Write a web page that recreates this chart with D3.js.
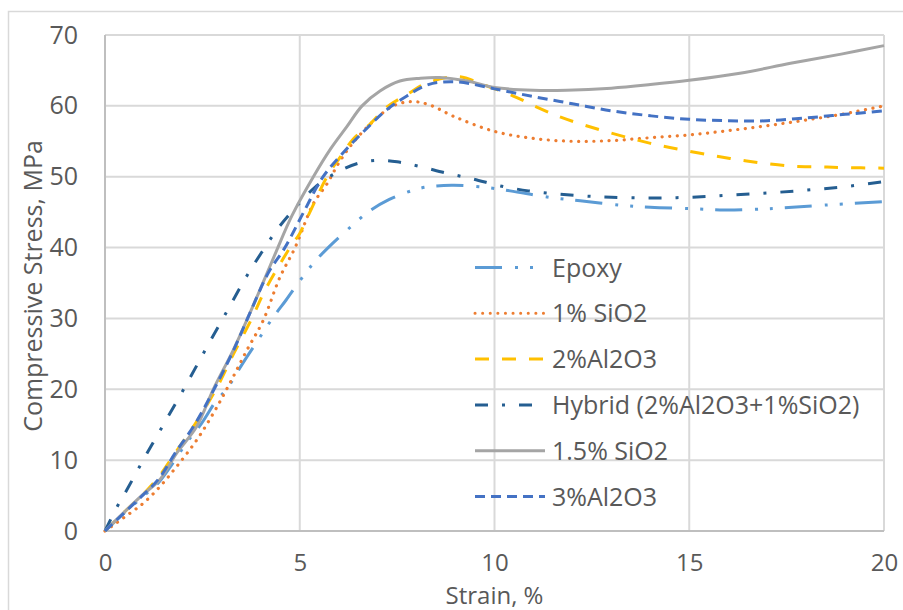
<!DOCTYPE html>
<html>
<head>
<meta charset="utf-8">
<script src="https://cdn.jsdelivr.net/npm/d3@7"></script>
<style>
  body { margin: 0; background: #fff; }
  text { font-family: "Open Sans", "Noto Sans", sans-serif; fill: #595959; }
</style>
</head>
<body>
<div id="chart"></div>
<script>
// strain (%) / stress (MPa) pairs
const epoxy = [[0,0],[0.5,2.6],[1,5],[1.4,7],[1.72,9.4],[2.1,12.5],[2.48,15.2],[2.87,18.5],[3.12,20],[3.54,23.7],[3.9,26.7],[4.31,30.1],[4.65,32.6],[5,35.3],[5.35,37.8],[5.73,40],[6.2,42.4],[6.8,45.2],[7.3,46.8],[7.75,47.8],[8.2,48.5],[8.9,48.8],[9.6,48.6],[10.4,48],[11.4,47.1],[12.2,46.6],[13.2,46],[14,45.7],[15,45.5],[15.9,45.3],[16.7,45.4],[17.4,45.6],[18.5,46],[20,46.5]];
const sio2_1 = [[0,0],[0.64,2.5],[1,4],[1.4,6.2],[1.84,9.1],[2.35,12.8],[2.78,16.6],[3.2,20.8],[3.64,25.5],[4.06,29.7],[4.49,35.8],[4.88,40],[5.35,46.2],[5.7,49],[6.03,52.2],[6.4,55],[6.9,57.9],[7.4,60],[7.85,60.6],[8.3,60.2],[9,58.4],[10,56.4],[11,55.4],[12,55],[13,55.1],[14,55.5],[15,55.9],[16,56.5],[17,57.2],[18,58],[19,58.9],[20,60]];
const al2o3_2 = [[0,0],[0.5,2.7],[1,5.3],[1.4,7.8],[1.8,11],[2.3,15],[2.85,20],[3.3,25],[3.77,30],[4.1,33.9],[4.75,40],[5,42],[5.26,45],[5.7,50],[6.03,52.7],[6.37,55.3],[6.8,57.4],[7.23,59.8],[7.75,61.6],[8.3,63.3],[9.1,64.1],[9.7,63],[10.4,61.6],[11.1,59.8],[11.7,58.4],[12.3,57.3],[12.97,56.2],[13.65,55.2],[14.25,54.4],[14.9,53.7],[15.6,53],[16.25,52.4],[16.9,51.9],[17.6,51.5],[18.3,51.4],[18.95,51.3],[20,51.2]];
const hybrid = [[0,0],[0.3,3.3],[0.5,5.2],[1,10.2],[1.5,15],[2.08,20.6],[2.6,25.8],[3.12,30.9],[3.64,36],[4.02,39.3],[4.44,42.7],[4.9,45.7],[5.39,48.5],[5.95,50.6],[6.5,51.9],[7,52.3],[7.5,52.1],[8.04,51.5],[8.77,50.5],[9.44,49.7],[10.15,48.7],[10.87,48],[11.53,47.6],[12.24,47.3],[13,47.1],[14,47],[15,47.1],[16,47.4],[17,47.7],[18,48.1],[19,48.6],[20,49.3]];
const sio2_15 = [[0,0],[0.5,2.7],[0.94,5],[1.4,7.2],[1.84,11],[2.35,14.7],[2.78,20],[3.29,25.5],[3.7,30.5],[4,34.3],[4.4,39.5],[4.8,44.5],[5.35,50],[5.8,54],[6.2,57],[6.6,60],[7.06,62.1],[7.57,63.5],[8.1,63.9],[8.6,64],[9.3,63.5],[10,62.6],[11,62.2],[11.85,62.2],[13,62.5],[14,63],[15,63.6],[16.3,64.6],[17.6,66],[18.9,67.3],[20,68.5]];
const al2o3_3 = [[0,0],[0.5,2.6],[1,5.2],[1.4,7.5],[1.8,11],[2.3,15],[2.8,20],[3.3,25.5],[3.7,30.5],[4.2,36.5],[4.62,40],[5.1,45],[5.6,50],[6.2,53.9],[6.7,56.7],[7.2,59.3],[7.75,61.4],[8.3,63],[9,63.4],[10,62.4],[11,61.3],[12,60.3],[13,59.3],[14,58.6],[15,58.1],[16,57.9],[17,57.9],[18,58.3],[19,58.8],[20,59.3]];

const seriesNames = ["Epoxy", "1% SiO2", "2%Al2O3", "Hybrid (2%Al2O3+1%SiO2)", "1.5% SiO2", "3%Al2O3"];
const seriesData = [epoxy, sio2_1, al2o3_2, hybrid, sio2_15, al2o3_3];
const xTicks = [0, 5, 10, 15, 20];
const yTicks = [0, 10, 20, 30, 40, 50, 60, 70];

const colors = ["#5B9BD5", "#ED7D31", "#FFC000", "#255E91", "#A5A5A5", "#4472C4"];
const dashes = ["27,13,3,12,3,12", "0.1,7.5", "14,13", "13,14,3,14", null, "10,6"];
const caps = ["butt", "round", "butt", "butt", "butt", "butt"];

let width = 903, height = 610;
let margin = {top: 35, right: 19, bottom: 79, left: 105};
let w = width - margin.left - margin.right,
    h = height - margin.top - margin.bottom;

let svg = d3.select("#chart")
    .append("svg")
    .attr("width", width)
    .attr("height", height);

// outer chart frame
svg.append("rect")
    .attr("x", 8.5).attr("y", 11.5)
    .attr("width", 1000).attr("height", 1000)
    .attr("fill", "none")
    .attr("stroke", "#D9D9D9")
    .attr("stroke-width", 1.5);

let g = svg.append("g")
    .attr("transform", "translate(" + margin.left + "," + margin.top + ")");

let x = d3.scaleLinear().domain([0, 20]).range([0, w]);
let y = d3.scaleLinear().domain([0, 70]).range([h, 0]);

// gridlines
g.append("g")
    .selectAll("line.h")
    .data(yTicks)
    .enter().append("line")
    .attr("x1", 0).attr("x2", w)
    .attr("y1", d => y(d)).attr("y2", d => y(d))
    .attr("stroke", "#D9D9D9").attr("stroke-width", 2);

g.append("g")
    .selectAll("line.v")
    .data(xTicks)
    .enter().append("line")
    .attr("x1", d => x(d)).attr("x2", d => x(d))
    .attr("y1", 0).attr("y2", h)
    .attr("stroke", "#D9D9D9").attr("stroke-width", 2);

// axis lines
g.append("line").attr("x1", 0).attr("x2", 0).attr("y1", 0).attr("y2", h)
    .attr("stroke", "#BFBFBF").attr("stroke-width", 2);
g.append("line").attr("x1", 0).attr("x2", w).attr("y1", h).attr("y2", h)
    .attr("stroke", "#BFBFBF").attr("stroke-width", 2);

// tick labels via d3 axes
let xAxis = g.append("g")
    .attr("transform", "translate(0," + h + ")")
    .call(d3.axisBottom(x).tickValues(xTicks).tickSize(0).tickPadding(23));
xAxis.select(".domain").remove();
xAxis.selectAll("text").attr("font-size", 24).style("font-family", null);

let yAxis = g.append("g")
    .call(d3.axisLeft(y).tickValues(yTicks).tickSize(0).tickPadding(27));
yAxis.select(".domain").remove();
yAxis.selectAll("text").attr("font-size", 25).style("font-family", null);
svg.selectAll(".tick text").attr("fill", "#595959");

// axis titles
svg.append("text")
    .attr("x", margin.left + w / 2)
    .attr("y", 604)
    .attr("text-anchor", "middle")
    .attr("font-size", 24)
    .text("Strain, %");

svg.append("text")
    .attr("transform", "translate(42,286) rotate(-90)")
    .attr("text-anchor", "middle")
    .attr("font-size", 25)
    .text("Compressive Stress, MPa");

// series
let line = d3.line()
    .x(d => x(d[0]))
    .y(d => y(d[1]))
    .curve(d3.curveCatmullRom.alpha(0.5));

g.append("g")
    .selectAll("path")
    .data(seriesData)
    .enter()
    .append("path")
    .attr("d", line)
    .attr("fill", "none")
    .attr("stroke", (d, i) => colors[i])
    .attr("stroke-width", (d, i) => i === 1 ? 3.2 : 3)
    .attr("stroke-dasharray", (d, i) => dashes[i])
    .attr("stroke-linecap", (d, i) => caps[i]);

// legend
let legend = svg.append("g")
    .selectAll("g")
    .data(seriesNames)
    .enter()
    .append("g")
    .attr("transform", (d, i) => "translate(475," + (267.5 + i * 45.8) + ")");

legend.append("line")
    .attr("x1", 0).attr("x2", 70)
    .attr("y1", 0).attr("y2", 0)
    .attr("stroke", (d, i) => colors[i])
    .attr("stroke-width", 3)
    .attr("stroke-dasharray", (d, i) => dashes[i])
    .attr("stroke-linecap", (d, i) => caps[i]);

legend.append("text")
    .attr("x", 77)
    .attr("y", 9)
    .attr("font-size", 25)
    .text(d => d);
</script>
</body>
</html>
